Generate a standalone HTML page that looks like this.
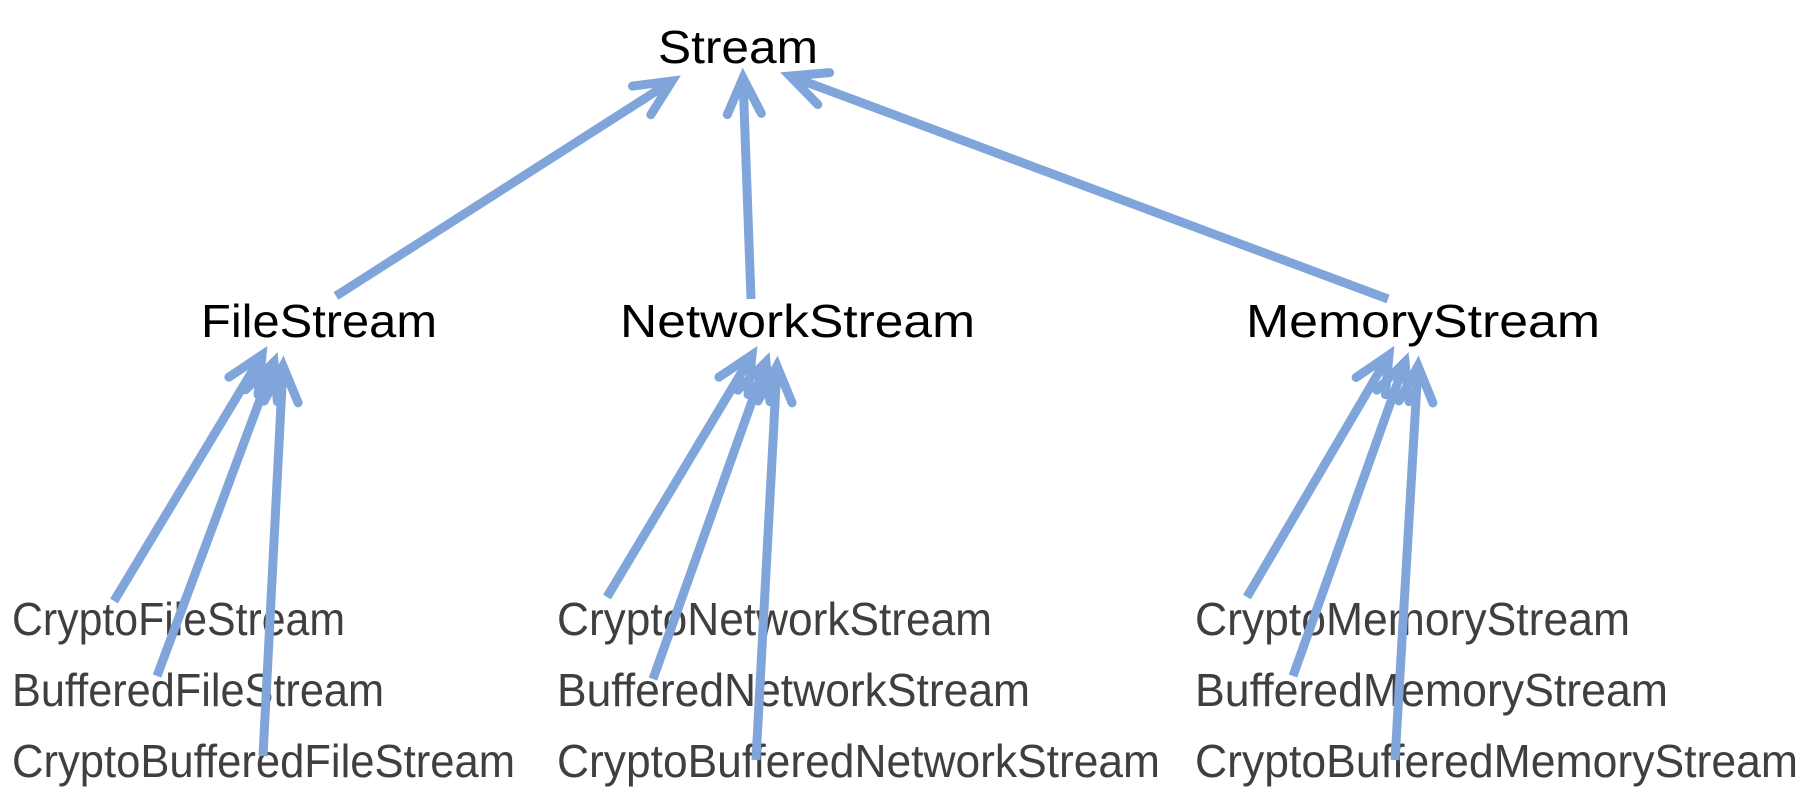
<!DOCTYPE html>
<html><head><meta charset="utf-8"><style>
html,body{margin:0;padding:0;background:#fff;width:1818px;height:796px;overflow:hidden}
svg{display:block}
text{font-family:"Liberation Sans",sans-serif;font-size:46px}
.t{fill:#000}
.b{fill:#3f3f3f}
</style></head><body>
<svg width="1818" height="796" viewBox="0 0 1818 796" xmlns="http://www.w3.org/2000/svg">
<defs>
<marker id="a" markerUnits="userSpaceOnUse" markerWidth="100" markerHeight="100" refX="0" refY="0" viewBox="-50 -50 100 100" orient="auto" overflow="visible">
<path d="M-36,-17 L0,0 L-36,17" fill="none" stroke="#7fa5da" stroke-width="9" stroke-linecap="round" stroke-linejoin="miter"/>
</marker>
</defs>
<text class="t" x="658" y="63" textLength="160" lengthAdjust="spacingAndGlyphs">Stream</text>
<text class="t" x="201" y="337" textLength="236" lengthAdjust="spacingAndGlyphs">FileStream</text>
<text class="t" x="620" y="337" textLength="355" lengthAdjust="spacingAndGlyphs">NetworkStream</text>
<text class="t" x="1246" y="337" textLength="354" lengthAdjust="spacingAndGlyphs">MemoryStream</text>

<text class="b" x="12" y="635" textLength="333" lengthAdjust="spacingAndGlyphs">CryptoFileStream</text>
<text class="b" x="12" y="706" textLength="372" lengthAdjust="spacingAndGlyphs">BufferedFileStream</text>
<text class="b" x="12" y="777" textLength="503" lengthAdjust="spacingAndGlyphs">CryptoBufferedFileStream</text>
<text class="b" x="557" y="635" textLength="435" lengthAdjust="spacingAndGlyphs">CryptoNetworkStream</text>
<text class="b" x="557" y="706" textLength="473" lengthAdjust="spacingAndGlyphs">BufferedNetworkStream</text>
<text class="b" x="557" y="777" textLength="603" lengthAdjust="spacingAndGlyphs">CryptoBufferedNetworkStream</text>
<text class="b" x="1195" y="635" textLength="435" lengthAdjust="spacingAndGlyphs">CryptoMemoryStream</text>
<text class="b" x="1195" y="706" textLength="473" lengthAdjust="spacingAndGlyphs">BufferedMemoryStream</text>
<text class="b" x="1195" y="777" textLength="603" lengthAdjust="spacingAndGlyphs">CryptoBufferedMemoryStream</text>

<g stroke="#7fa5da" stroke-width="9" fill="none" marker-end="url(#a)">
<line x1="336" y1="296" x2="672" y2="81"/>
<line x1="751" y1="299" x2="743" y2="78"/>
<line x1="1388" y1="299" x2="790" y2="76"/>

<line x1="114" y1="601" x2="262" y2="355"/>
<line x1="157" y1="676" x2="274" y2="362"/>
<line x1="263" y1="756" x2="283" y2="366"/>

<line x1="607" y1="597" x2="752" y2="355"/>
<line x1="653" y1="679" x2="766" y2="362"/>
<line x1="756" y1="760" x2="777" y2="366"/>

<line x1="1247" y1="597" x2="1389" y2="355"/>
<line x1="1293" y1="676" x2="1405" y2="362"/>
<line x1="1395" y1="760" x2="1418" y2="366"/>
</g>
</svg>
</body></html>
